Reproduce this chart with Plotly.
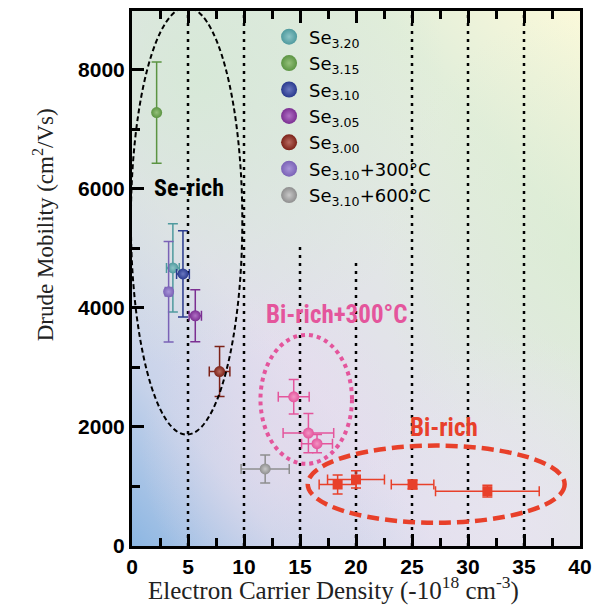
import base64
import plotly.graph_objects as go

# ---------------- data ----------------
se_names = ["Se<sub>3.20</sub>", "Se<sub>3.15</sub>", "Se<sub>3.10</sub>", "Se<sub>3.05</sub>",
            "Se<sub>3.00</sub>", "Se<sub>3.10</sub>+300°C", "Se<sub>3.10</sub>+600°C"]
se_x = [3.65, 2.2, 4.55, 5.65, 7.82, 3.27, 11.89]
se_y = [4670, 7280, 4570, 3867, 2930, 4270, 1294]
se_xerr = [0.57, 0.0, 0.57, 0.55, 0.92, 0.3, 2.15]
se_yerr = [740, 850, 725, 435, 420, 845, 234]
se_colors = ["#4f9a9e", "#5b9442", "#2a3a8e", "#7b2f92", "#7c2218", "#7a62b6", "#8e8e8e"]
se_light = ["#8cc4c6", "#94c07a", "#6a78c0", "#b070c4", "#b86a60", "#a894d8", "#c8c8c8"]

bi300_x = [14.44, 15.75, 16.52]
bi300_y = [2506, 1897, 1719]
bi300_xerr = [1.38, 2.26, 1.38]
bi300_yerr = [290, 330, 155]

bi_x = [18.36, 20.0, 25.05, 31.73]
bi_y = [1033, 1117, 1033, 921]
bi_xerr = [1.65, 2.54, 1.9, 4.63]
bi_yerr = [160, 145, 75, 98]

x_ticks = [0, 5, 10, 15, 20, 25, 30, 35, 40]
y_ticks = [0, 2000, 4000, 6000, 8000]

# guide lines (x position, top of dotted line)
guide_x = [5, 10, 15, 20, 25, 30, 35]
guide_top = [9000, 9000, 5050, 4800, 9000, 9000, 9000]

PINK = "#e4559c"
RED = "#e8402a"

fig = go.Figure()

# background gradient
svg = """<svg xmlns='http://www.w3.org/2000/svg' width='450' height='540' viewBox='0 0 100 100' preserveAspectRatio='none'>
<defs>
<linearGradient id='g' x1='0' y1='1' x2='1' y2='0'>
<stop offset='0' stop-color='#8cb6e2'/>
<stop offset='0.17' stop-color='#c8d3ea'/>
<stop offset='0.35' stop-color='#e2deee'/>
<stop offset='0.55' stop-color='#e2e6e6'/>
<stop offset='0.78' stop-color='#e2eeda'/>
<stop offset='1' stop-color='#fbf9da'/>
</linearGradient>
<radialGradient id='r1' cx='0.15' cy='0.12' r='0.55'>
<stop offset='0' stop-color='#d6e9d6' stop-opacity='0.9'/>
<stop offset='1' stop-color='#d6e9d6' stop-opacity='0'/>
</radialGradient>
<radialGradient id='r2' cx='1.0' cy='0.45' r='0.45'>
<stop offset='0' stop-color='#d8ebd2' stop-opacity='0.55'/>
<stop offset='1' stop-color='#d8ebd2' stop-opacity='0'/>
</radialGradient>
<radialGradient id='r3' cx='0.32' cy='0.82' r='0.3'>
<stop offset='0' stop-color='#eadcec' stop-opacity='0.6'/>
<stop offset='1' stop-color='#eadcec' stop-opacity='0'/>
</radialGradient>
<radialGradient id='r4' cx='0.85' cy='0.95' r='0.35'>
<stop offset='0' stop-color='#e8e4f0' stop-opacity='0.8'/>
<stop offset='1' stop-color='#e8e4f0' stop-opacity='0'/>
</radialGradient>
</defs>
<rect x='0' y='0' width='100' height='100' fill='url(#g)'/>
<rect x='0' y='0' width='100' height='100' fill='url(#r1)'/>
<rect x='0' y='0' width='100' height='100' fill='url(#r2)'/>
<rect x='0' y='0' width='100' height='100' fill='url(#r3)'/>
<rect x='0' y='0' width='100' height='100' fill='url(#r4)'/>
</svg>"""
src = "data:image/svg+xml;base64," + base64.b64encode(svg.encode()).decode()

# data traces
for i, nm in enumerate(se_names):
    fig.add_trace(go.Scatter(
        x=[se_x[i]], y=[se_y[i]], mode="markers", showlegend=False,
        marker=dict(size=11, color=se_colors[i], line=dict(width=0),
                    gradient=dict(type="radial", color=se_light[i])),
        error_x=dict(type="data", array=[se_xerr[i]], color=se_colors[i], thickness=1.5, width=5,
                     visible=se_xerr[i] > 0),
        error_y=dict(type="data", array=[se_yerr[i]], color=se_colors[i], thickness=1.5, width=5),
    ))

fig.add_trace(go.Scatter(
    x=bi300_x, y=bi300_y, mode="markers", showlegend=False,
    marker=dict(size=11, color=PINK, gradient=dict(type="radial", color="#f294c4")),
    error_x=dict(type="data", array=bi300_xerr, color=PINK, thickness=1.5, width=5),
    error_y=dict(type="data", array=bi300_yerr, color=PINK, thickness=1.5, width=5),
))

fig.add_trace(go.Scatter(
    x=bi_x, y=bi_y, mode="markers", showlegend=False,
    marker=dict(size=10, symbol="square", color=RED),
    error_x=dict(type="data", array=bi_xerr, color=RED, thickness=1.5, width=5),
    error_y=dict(type="data", array=bi_yerr, color=RED, thickness=1.5, width=5),
))

# legend-only traces
for i, nm in enumerate(se_names):
    fig.add_trace(go.Scatter(
        x=[None], y=[None], mode="markers", name=nm, showlegend=True,
        marker=dict(size=16, color=se_colors[i], gradient=dict(type="radial", color=se_light[i])),
    ))

shapes = []
for gx, gt in zip(guide_x, guide_top):
    shapes.append(dict(type="line", xref="x", yref="y", x0=gx, x1=gx, y0=0, y1=gt,
                       line=dict(color="black", width=2.5, dash="3px,5px"), layer="below"))
shapes += [
    dict(type="circle", xref="x", yref="y", x0=-0.1, x1=9.85, y0=1870, y1=9050,
         line=dict(color="black", width=2, dash="5px,3px")),
    dict(type="circle", xref="x", yref="y", x0=11.47, x1=19.64, y0=1380, y1=3546,
         line=dict(color=PINK, width=4, dash="4px,4px")),
    dict(type="circle", xref="x", yref="y", x0=15.69, x1=38.63, y0=390, y1=1686,
         line=dict(color=RED, width=4.5, dash="12px,6px")),
]

narrow = "Roboto Condensed, Liberation Sans Narrow, Roboto, sans-serif"
serif = "Liberation Serif, Times New Roman, serif"
annotations = [
    dict(text="<b>Se-rich</b>", x=5.08, y=6010, xref="x", yref="y", showarrow=False,
         font=dict(family=narrow, size=24, color="black")),
    dict(text="<b>Bi-rich+300°C</b>", x=18.29, y=3884, xref="x", yref="y", showarrow=False,
         font=dict(family=narrow, size=25, color=PINK)),
    dict(text="<b>Bi-rich</b>", x=27.83, y=1997, xref="x", yref="y", showarrow=False,
         font=dict(family=narrow, size=25, color=RED)),
    dict(text="Electron Carrier Density (-10<sup>18</sup> cm<sup>-3</sup>)", xref="paper", yref="paper",
         x=0.449, y=-0.08, xanchor="center", yanchor="middle", showarrow=False,
         font=dict(family=serif, size=25, color="#222")),
    dict(text="Drude Mobility (cm<sup>2</sup>/Vs)", xref="paper", yref="paper",
         x=-0.198, y=0.60, xanchor="center", yanchor="middle", textangle=-90, showarrow=False,
         font=dict(family=serif, size=23, color="#222")),
]

axis_common = dict(showgrid=False, zeroline=False, showline=True, linecolor="black", linewidth=3,
                   ticks="inside", tickwidth=3, ticklen=12, tickcolor="black",
                   tickfont=dict(family="Liberation Sans, Arial, sans-serif", size=21, color="black",
                                 weight="bold"))

fig.update_layout(
    width=593, height=608,
    margin=dict(l=124, r=21, t=0, b=70),
    paper_bgcolor="white", plot_bgcolor="rgba(0,0,0,0)",
    images=[dict(source=src, xref="paper", yref="paper", x=0, y=1, sizex=1, sizey=1,
                 sizing="stretch", layer="below", xanchor="left", yanchor="top")],
    shapes=shapes, annotations=annotations,
    legend=dict(x=0.306, y=0.986, xanchor="left", yanchor="top", bgcolor="rgba(0,0,0,0)",
                font=dict(family="DejaVu Sans, sans-serif", size=18, color="black"),
                tracegroupgap=0, itemwidth=30),
    xaxis=dict(range=[0, 40], tickvals=x_ticks, mirror="ticks",
               minor=dict(dtick=2.5, ticks="inside", ticklen=8, tickwidth=3, tickcolor="black"),
               **axis_common),
    yaxis=dict(range=[0, 8985], tickvals=y_ticks, mirror=True,
               minor=dict(dtick=1000, ticks="inside", ticklen=8, tickwidth=3, tickcolor="black"),
               **axis_common),
)

fig.write_html("out.html")
